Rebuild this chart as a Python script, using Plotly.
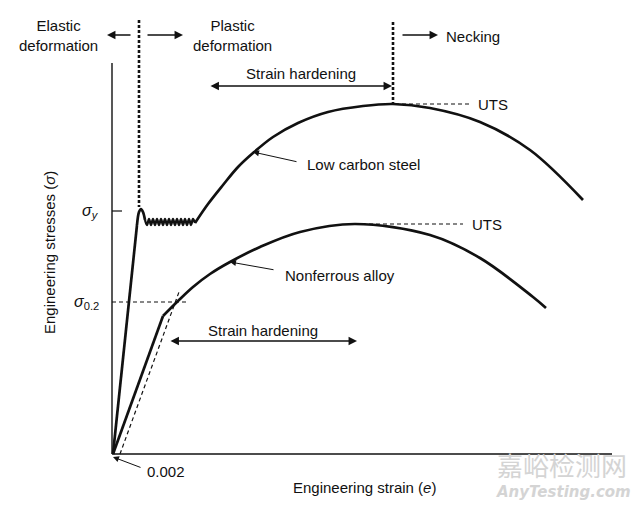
import plotly.graph_objects as go

# ---- data (schematic units: strain along x, stress along y) ----
steel_elastic_x = [0, 24]
steel_elastic_y = [0, 229]
steel_yield_x = [24, 26, 28, 30, 32]
steel_yield_y = [229, 242, 245, 242, 234]
steel_serr_x = [32, 34, 36, 38, 40, 42, 44, 46, 48, 50, 52, 54, 56, 58, 60, 62, 64, 66, 68, 70, 72, 74, 76, 78, 80, 82]
steel_serr_y = [234, 229, 235, 229, 235, 229, 235, 229, 235, 229, 235, 229, 235, 229, 235, 229, 235, 229, 235, 229, 235, 229, 235, 229, 235, 231]
steel_hard_x = [82, 95, 110, 125, 140, 160, 185, 215, 250, 280, 317, 367, 417, 470]
steel_hard_y = [231, 250, 269, 287, 301, 317, 331, 342, 348, 350, 346, 332, 304, 254]

alloy_elastic_x = [0, 50]
alloy_elastic_y = [0, 138]
alloy_plastic_x = [50, 65, 80, 97, 117, 147, 187, 242, 317, 367, 420, 433]
alloy_plastic_y = [138, 153, 167, 180, 192, 207, 222, 230, 219, 196, 157, 146]

offset_x = [7, 66]
offset_y = [0, 162]

sigma_y_level = 243
sigma_02_level = 152
uts_steel = [280, 350]
uts_alloy = [242, 230]
yield_strain = 26
axis_x_max = 499
axis_y_max = 391

FONT = "Liberation Sans, Arial, sans-serif"
BLACK = "#111111"

fig = go.Figure()

def line(x, y, width=2.7, dash=None, shape="linear", smoothing=1.0):
    ln = dict(color=BLACK, width=width, shape=shape)
    if dash:
        ln["dash"] = dash
    if shape == "spline":
        ln["smoothing"] = smoothing
    fig.add_trace(go.Scatter(x=x, y=y, mode="lines", line=ln,
                             hoverinfo="skip", showlegend=False))

# axes
line([-1, -1], [0, axis_y_max], width=1.4)
line([-1, axis_x_max], [0, 0], width=1.6)

# low carbon steel
line(steel_elastic_x, steel_elastic_y)
line(steel_yield_x, steel_yield_y, shape="spline")
line(steel_serr_x, steel_serr_y, width=2.3, shape="spline")
line(steel_hard_x, steel_hard_y, shape="spline", smoothing=1.0)

# nonferrous alloy
line(alloy_elastic_x, alloy_elastic_y)
line(alloy_plastic_x, alloy_plastic_y, shape="spline", smoothing=1.0)

# offset line and sigma levels
line(offset_x, offset_y, width=1.2, dash="4px,3px")
line([-1, 75], [sigma_02_level, sigma_02_level], width=1.1, dash="4px,3px")
line([-1, 9], [sigma_y_level, sigma_y_level], width=1.2)

# vertical dotted boundaries
line([yield_strain, yield_strain], [434, 247], width=2.6, dash="3px,2px")
line([uts_steel[0], uts_steel[0]], [432, uts_steel[1]], width=2.6, dash="3px,2px")

# UTS dashed lines
line([uts_steel[0] + 2, 357], [uts_steel[1], uts_steel[1]], width=1.1, dash="4px,3px")
line([uts_alloy[0], 350], [uts_alloy[1], uts_alloy[1]], width=1.1, dash="4px,3px")

ann = []

def text(x, y, s, size=15, xanchor="center", **kw):
    d = dict(x=x, y=y, xref="x", yref="y", text=s, showarrow=False,
             font=dict(family=FONT, size=size, color=BLACK),
             xanchor=xanchor, yanchor="middle")
    d.update(kw)
    ann.append(d)

def arrow(tail, tip, both=False, width=1.3, size=1.3):
    ann.append(dict(x=tip[0], y=tip[1], ax=tail[0], ay=tail[1],
                    xref="x", yref="y", axref="x", ayref="y", text="",
                    showarrow=True, arrowhead=2, arrowsize=size,
                    arrowwidth=width, arrowcolor=BLACK,
                    arrowside="end+start" if both else "end",
                    startarrowhead=2, startarrowsize=size))

text(-55, 419, "Elastic<br>deformation")
text(119, 419, "Plastic<br>deformation")
arrow((19, 419), (-6, 419))
arrow((33, 419), (70, 419))
arrow((288, 419), (325, 419))
text(331, 418, "Necking", xanchor="left")

text(188, 381, "Strain hardening")
arrow((96, 368), (279, 368), both=True)

text(363, 350, "UTS", xanchor="left")
text(357, 230, "UTS", xanchor="left")

text(192, 290, "Low carbon steel", xanchor="left")
arrow((185, 292), (140, 302), width=1.0, size=1.2)
text(170, 179, "Nonferrous alloy", xanchor="left")
arrow((162, 184), (117, 192), width=1.0, size=1.2)

text(150, 124, "Strain hardening")
arrow((56, 113), (244, 113), both=True)

text(-23, sigma_y_level, "<i>σ<sub>y</sub></i>", size=16)
text(-27, sigma_02_level, "<i>σ</i><sub>0.2</sub>", size=16)

text(32, -17, "0.002", xanchor="left")
arrow((29, -14), (0, -3), width=1.0, size=1.2)

text(251, -33, "Engineering strain (<i>e</i>)")
text(-64, 201, "Engineering stresses (<i>σ</i>)", textangle=-90)

# watermark
text(449, -10, "嘉峪检测网", size=26,
     font=dict(family="Noto Sans CJK SC", size=26, color="#d4d4d4"))
text(450, -38, "<b><i>AnyTesting.com</i></b>", size=15,
     font=dict(family="DejaVu Sans, sans-serif", size=15, color="#d4d4d4"))

# ranges offset by the 8px page margin so the drawing lands where the reference has it
fig.update_layout(
    width=640, height=509, autosize=False,
    margin=dict(l=0, r=0, t=0, b=0),
    paper_bgcolor="white", plot_bgcolor="white",
    xaxis=dict(range=[-105, 535], visible=False, fixedrange=True),
    yaxis=dict(range=[-63, 446], visible=False, fixedrange=True),
    annotations=ann,
    showlegend=False,
)

fig.write_html("out.html")
